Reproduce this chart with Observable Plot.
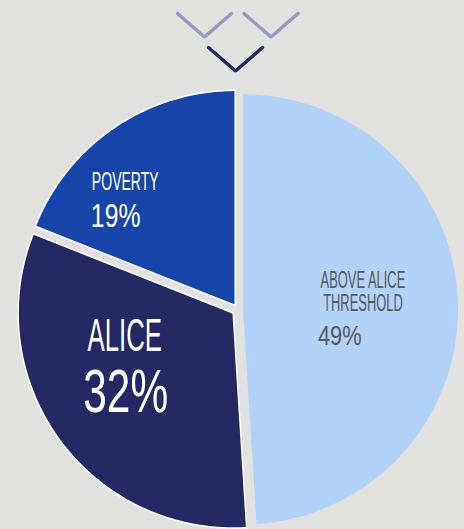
<!DOCTYPE html>
<html><head><meta charset="utf-8">
<script src="https://cdn.jsdelivr.net/npm/d3@7"></script>
<script src="https://cdn.jsdelivr.net/npm/@observablehq/plot@0.6"></script>
<style>html,body{margin:0;padding:0;background:#e1e1e0;overflow:hidden}</style>
</head><body><div id="chart"></div>
<script>
// ---- data ----
const categories = ["ABOVE ALICE THRESHOLD", "ALICE", "POVERTY"];
const shares = [49, 32, 19];
const nameLabels = ["ABOVE ALICE\nTHRESHOLD", "ALICE", "POVERTY"];
const percentLabels = ["49%", "32%", "19%"];

// ---- style / layout ----
const W = 464, H = 529;
const center = {x: 237.5, y: 309};
const radius = 215;
const explode = [5, 6, 5];
const fills = ["#b3d2fa", "#242963", "#1845aa"];
const strokes = ["none", "#ffffff", "#ffffff"];
const labelColors = ["#58595b", "#ffffff", "#ffffff"];
const centroidRadius = 118;
// per label: slice index, name or percent, dx, dy from slice centroid, size, anchor, horizontal stretch
const labelStyle = [
  {i: 0, pct: false, dx: 2, dy: 5, size: 23.7, anchor: "middle", sx: 0.545, lh: 0.97},
  {i: 0, pct: true, dx: -43, dy: 39, size: 28, anchor: "start", sx: 0.78},
  {i: 1, pct: false, dx: -13, dy: -31, size: 46, anchor: "middle", sx: 0.56},
  {i: 1, pct: true, dx: -12, dy: 30, size: 61.5, anchor: "middle", sx: 0.69},
  {i: 2, pct: false, dx: -77, dy: -18, size: 26.5, anchor: "start", sx: 0.53},
  {i: 2, pct: true, dx: -78, dy: 19, size: 33.5, anchor: "start", sx: 0.74}
];
const chevrons = [
  {cx: 204, cy: 13, color: "#9698be"},
  {cx: 270.5, cy: 13, color: "#9698be"},
  {cx: 235, cy: 47, color: "#23285f"}
];
const chevHalf = 27, chevDepth = 23.5;

// ---- geometry ----
const arcs = d3.pie().sort(null).value(d => d)(shares);
const pt = (c, r, a) => ({x: c.x + r * Math.sin(a), y: c.y - r * Math.cos(a)});
const slices = arcs.map((a, i) => {
  const mid = (a.startAngle + a.endAngle) / 2;
  const apex = pt(center, explode[i], mid);
  const points = [{...apex}];
  const n = Math.max(2, Math.ceil((a.endAngle - a.startAngle) / (Math.PI / 360)));
  for (let k = 0; k <= n; k++) {
    const ang = a.startAngle + (a.endAngle - a.startAngle) * k / n;
    points.push(pt(apex, radius, ang));
  }
  return {name: categories[i], points, apex, mid, centroid: pt(apex, centroidRadius, mid)};
});

const textRows = labelStyle.map(s => {
  const c = slices[s.i].centroid;
  return {
    text: s.pct ? percentLabels[s.i] : nameLabels[s.i],
    x: c.x + s.dx, y: c.y + s.dy, size: s.size, anchor: s.anchor, sx: s.sx,
    lh: s.lh || 1, color: labelColors[s.i]
  };
});

const chevPts = chevrons.flatMap((c, k) => [
  {k, x: c.cx - chevHalf, y: c.cy},
  {k, x: c.cx, y: c.cy + chevDepth},
  {k, x: c.cx + chevHalf, y: c.cy}
]);

const plot = Plot.plot({
  width: W, height: H,
  margin: 0,
  x: {domain: [0, W], range: [0, W], axis: null},
  y: {domain: [0, H], range: [0, H], axis: null},
  style: {background: "#e1e1e0"},
  marks: [
    ...slices.map((s, i) => Plot.line(s.points, {
      x: "x", y: "y", curve: "linear-closed",
      fill: fills[i], stroke: strokes[i], strokeWidth: 1.5
    })),
    ...chevrons.map((c, k) => Plot.line(chevPts.filter(p => p.k === k), {
      x: "x", y: "y", stroke: c.color, strokeWidth: 3.4, strokeLinejoin: "miter"
    })),
    ...textRows.map(r => Plot.text([r], {
      x: "x", y: "y", text: "text", fontSize: r.size, textAnchor: r.anchor,
      lineAnchor: "bottom", lineHeight: r.lh, fill: r.color,
      fontFamily: "Liberation Sans, Arial, sans-serif"
    }))
  ]
});
document.getElementById("chart").appendChild(plot);

// condensed lettering: horizontal stretch about each label's anchor
d3.select(plot).selectAll("text").each(function () {
  const row = textRows.find(r => r.text.replace(/\n/g, "") === this.textContent);
  if (!row) return;
  const t = this.getAttribute("transform") || "";
  this.setAttribute("transform", `${t} scale(${row.sx},1)`);
});
</script>
</body></html>
